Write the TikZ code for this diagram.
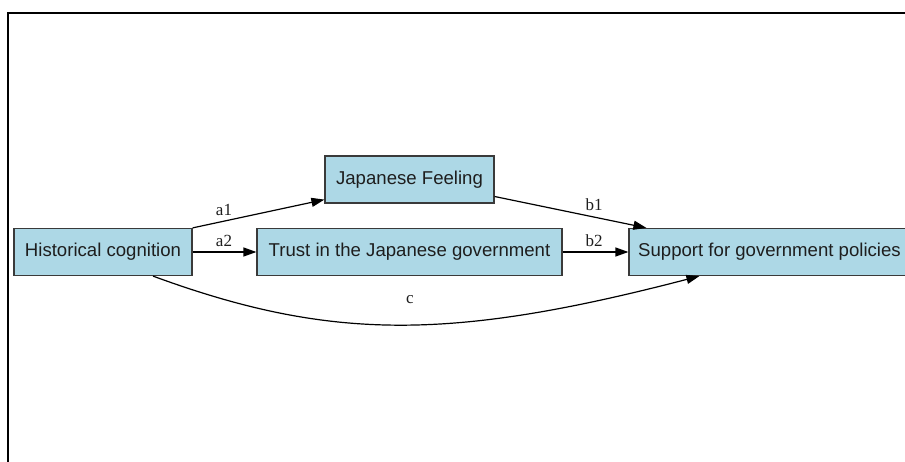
\documentclass[tikz,border=0pt]{standalone}
\usepackage{fontspec}
\setmainfont{Liberation Sans}
\newfontfamily\labfont{Liberation Serif}
\usetikzlibrary{arrows.meta,calc}
\definecolor{boxfill}{HTML}{ADD8E6}
\definecolor{boxline}{HTML}{3A3A3A}
\definecolor{txt}{HTML}{1E1E1E}
\begin{document}
\begin{tikzpicture}[x=1pt,y=-1pt,
  box/.style={draw=boxline,line width=1.2pt,fill=boxfill,inner sep=0pt,
    minimum height=47pt,text=txt,font=\fontsize{18.6}{21}\selectfont},
  lab/.style={anchor=base,inner sep=0pt,text=txt,font=\labfont\fontsize{17}{19}\selectfont},
  edge/.style={line width=1.2pt,-{Triangle[length=13pt,width=9pt]}}]
\useasboundingbox (0,0) rectangle (905,462);
\clip (0,0) rectangle (905,462);
\fill[white] (0,0) rectangle (905,462);
\draw[line width=2pt] (8,470) -- (8,13) -- (915,13);
\node[box,minimum width=178pt] (hc) at (103,252) {Historical cognition};
\node[box,minimum width=305pt] (tr) at (409.5,252) {Trust in the Japanese government};
\node[box,minimum width=169pt] (jf) at (409.5,179.5) {Japanese Feeling};
\node[box,minimum width=281pt] (sp) at (769.5,252) {Support for government policies};
\draw[edge] (hc.north east) -- ($(jf.south west)+(0,-4)$);
\draw[edge] (hc.east) -- (tr.west);
\draw[edge] ($(jf.east)+(0,17)$) -- ($(sp.north west)+(18,0)$);
\draw[edge] (tr.east) -- (sp.west);
\draw[edge] ($(hc.south)+(50,0)$) .. controls (330,341) and (450,341) .. ($(sp.south west)+(71,0)$);
\node[lab] (la1) at (224,216) {a1};
\node[lab] (la2) at (224,247) {a2};
\node[lab] (lb1) at (594,211) {b1};
\node[lab] (lb2) at (594,247) {b2};
\node[lab] (lc) at (410,304) {c};
\end{tikzpicture}
\end{document}
